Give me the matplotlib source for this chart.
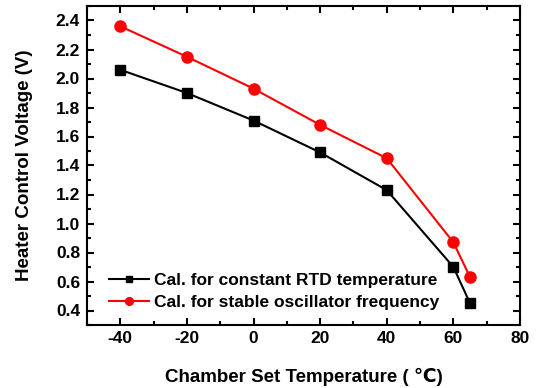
import numpy as np
import matplotlib.pyplot as plt
from matplotlib.ticker import MultipleLocator

plt.rcParams['font.family'] = ['Liberation Sans', 'DejaVu Sans']
plt.rcParams['font.weight'] = 'bold'
plt.rcParams['axes.unicode_minus'] = False

temp = [-40, -20, 0, 20, 40, 60, 65]
v_rtd = [2.06, 1.90, 1.71, 1.49, 1.23, 0.70, 0.45]
v_osc = [2.36, 2.15, 1.93, 1.68, 1.45, 0.87, 0.63]

fig = plt.figure(figsize=(5.38, 3.88), dpi=100)
ax = fig.add_axes([87/538, 1-325/388, (520-87)/538, (325-6)/388])

ax.plot(temp, v_rtd, 'k-', marker='s', ms=6.5, lw=1.5,
        label='Cal. for constant RTD temperature')
ax.plot(temp, v_osc, '-', color='#ff0000', marker='o', ms=8, lw=1.5,
        label='Cal. for stable oscillator frequency')

ax.set_xlim(-50, 80)
ax.set_ylim(0.3, 2.5)
ax.xaxis.set_major_locator(MultipleLocator(20))
ax.xaxis.set_minor_locator(MultipleLocator(10))
ax.yaxis.set_major_locator(MultipleLocator(0.2))
ax.yaxis.set_minor_locator(MultipleLocator(0.1))
ax.yaxis.set_major_formatter(plt.FormatStrFormatter('%.1f'))
ax.tick_params(which='both', direction='in', top=True, right=True, width=1.5)
ax.tick_params(which='major', length=5, labelsize=12.5)
ax.tick_params(which='minor', length=3)
ax.tick_params(axis='x', pad=4)
ax.tick_params(axis='y', pad=5)
for s in ax.spines.values():
    s.set_linewidth(1.5)

ax.set_xlabel('Chamber Set Temperature ( \u2103)', fontsize=13.5, fontweight='bold', labelpad=16)
ax.set_ylabel('Heater Control Voltage (V)', fontsize=13.5, fontweight='bold', labelpad=16)

ax.legend(loc='lower left', frameon=False, fontsize=12.5, handlelength=2.3,
          borderaxespad=0.0, labelspacing=0.4, handletextpad=0.3,
          markerscale=0.7, bbox_to_anchor=(0.035, 0.025))

fig.savefig('out.png', dpi=100)
